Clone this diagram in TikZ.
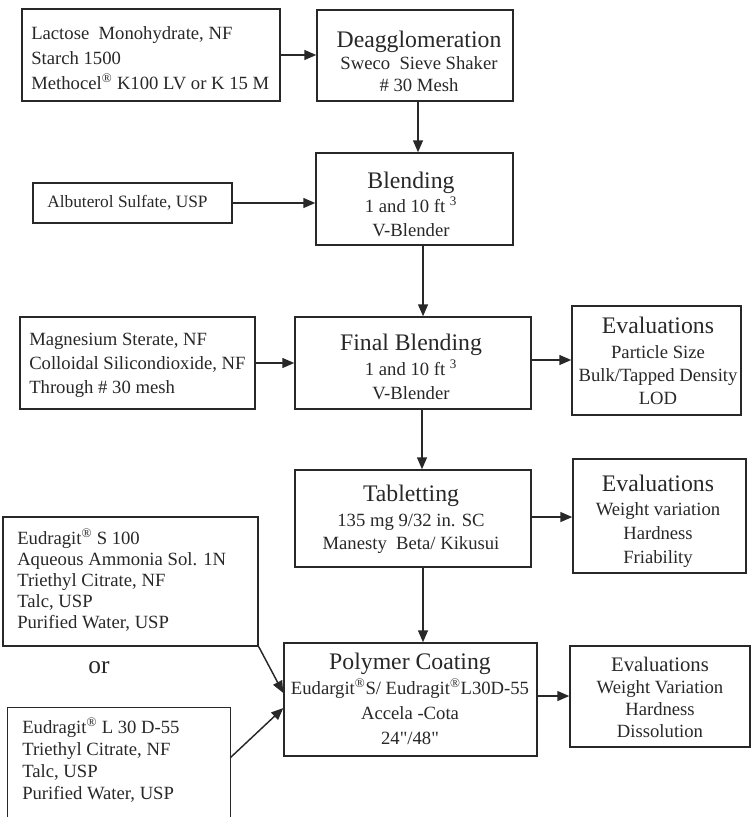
\documentclass[tikz,border=0pt]{standalone}
\usepackage{fontspec}
\setmainfont{Liberation Serif}[Ligatures=TeXOff]
\usetikzlibrary{arrows.meta}
\definecolor{ink}{RGB}{40,40,40}
\tikzset{
  box/.style={draw=ink, line width=1.1pt, rectangle, inner sep=0pt},
  openbox/.style={draw=none, rectangle, inner sep=0pt},
  arr/.style={draw=ink, line width=1.1pt, -{Triangle[length=9pt,width=7.5pt]}},
  txt/.style={text=ink, inner sep=0pt, align=center},
  ltxt/.style={text=ink, inner sep=0pt, align=left, anchor=west},
}
\newcommand{\ttl}[1]{{\fontsize{17.8}{18}\selectfont #1}}
\newcommand{\rg}{\textsuperscript{®}}
\newcommand{\dq}{\symbol{34}}
\begin{document}
\begin{tikzpicture}[x=0.75pt,y=-0.75pt]
\fill[white] (0,0) rectangle (751,817);
\useasboundingbox (0,0) rectangle (751,817);

% boxes
\node[box, minimum width=193.5pt, minimum height=69pt] (lact) at (151,55) {};
\node[box, minimum width=147pt, minimum height=68.25pt] (deag) at (415,55.5) {};
\node[box, minimum width=149.25pt, minimum height=30pt] (albu) at (132.5,203) {};
\node[box, minimum width=147.75pt, minimum height=69pt] (blend) at (414.5,199) {};
\node[box, minimum width=176.25pt, minimum height=69pt] (mg) at (137.5,363) {};
\node[box, minimum width=177pt, minimum height=69pt] (final) at (413,363) {};
\node[box, minimum width=126.75pt, minimum height=81.75pt] (ev1) at (656.5,360.5) {};
\node[box, minimum width=177pt, minimum height=72.75pt] (tab) at (413,518.5) {};
\node[box, minimum width=129.75pt, minimum height=85.5pt] (ev2) at (659.5,516) {};
\node[box, minimum width=191.25pt, minimum height=96.75pt] (sbox) at (130.5,581.5) {};
\node[box, minimum width=189.75pt, minimum height=84.75pt] (poly) at (410.5,699.5) {};
\node[box, minimum width=135pt, minimum height=75.75pt] (ev3) at (660,696.5) {};
\node[openbox, minimum width=166.5pt, minimum height=85.5pt] (lbox) at (119,765) {};
\draw[ink, line width=1.1pt] (lbox.south west) -- (lbox.north west) -- (lbox.north east) -- (lbox.south east);

% texts
\node[ltxt, font=\fontsize{14}{18.75}\selectfont] (lact-t) at (31,58)
  {Lactose\ \ Monohydrate, NF\\ Starch 1500\\ Methocel\rg{} K100 LV or K 15 M};
\node[txt, font=\fontsize{14}{16.5}\selectfont] (deag-t) at (419,61)
  {\ttl{Deagglomeration}\\ Sweco\ \ Sieve Shaker\\ \# 30 Mesh};
\node[ltxt, font=\fontsize{13}{16}\selectfont] (albu-t) at (47,203)
  {Albuterol Sulfate, USP};
\node[txt, font=\fontsize{14}{18}\selectfont] (blend-t) at (411,204)
  {\ttl{Blending}\\ 1 and 10 ft \textsuperscript{3}\\ V-Blender};
\node[ltxt, font=\fontsize{14}{18}\selectfont] (mg-t) at (29,365)
  {Magnesium Sterate, NF\\ Colloidal Silicondioxide, NF\\ Through \# 30 mesh};
\node[txt, font=\fontsize{14}{18}\selectfont] (final-t) at (411,367)
  {\ttl{Final Blending}\\[1pt] 1 and 10 ft \textsuperscript{3}\\ V-Blender};
\node[txt, font=\fontsize{14}{17.25}\selectfont] (ev1-t) at (658,361)
  {\ttl{Evaluations}\\[1.5pt] Particle Size\\ Bulk/Tapped Density\\ LOD};
\node[txt, font=\fontsize{14}{17.25}\selectfont] (tab-t) at (411,519)
  {\ttl{Tabletting}\\[1.5pt] 135 mg 9/32 in. SC\\ Manesty\ \ Beta/ Kikusui};
\node[txt, font=\fontsize{14}{18}\selectfont] (ev2-t) at (658,521)
  {\ttl{Evaluations}\\ Weight variation\\ Hardness\\ Friability};
\node[ltxt, font=\fontsize{14}{15.75}\selectfont] (sbox-t) at (17,580)
  {Eudragit\rg{} S 100\\ Aqueous Ammonia Sol. 1N\\ Triethyl Citrate, NF\\ Talc, USP\\ Purified Water, USP};
\node[txt, font=\fontsize{19}{20}\selectfont] (or) at (99,668) {or};
\node[ltxt, font=\fontsize{14}{16.5}\selectfont] (lbox-t) at (22,760)
  {Eudragit\rg{} L 30 D-55\\ Triethyl Citrate, NF\\ Talc, USP\\ Purified Water, USP};
\node[txt, font=\fontsize{14}{18.75}\selectfont] (poly-t) at (410,699)
  {\ttl{Polymer Coating}\\ Eudargit\rg{}S/ Eudragit\rg{}L30D-55\\ Accela -Cota\\ 24\dq/48\dq};
\node[txt, font=\fontsize{14}{16.5}\selectfont] (ev3-t) at (660,697)
  {{\fontsize{15.5}{16.5}\selectfont Evaluations}\\ Weight Variation\\ Hardness\\ Dissolution};

% connectors
\draw[arr] (lact.east) -- (lact.east -| deag.west);
\draw[arr] ([xshift=2.25pt]deag.south) -- ([xshift=2.25pt]deag.south |- blend.north);
\draw[arr] (albu.east) -- (albu.east -| blend.west);
\draw[arr] ([xshift=6.4pt]blend.south) -- ([xshift=6.4pt]blend.south |- final.north);
\draw[arr] (mg.east) -- (mg.east -| final.west);
\draw[arr] ([yshift=2.25pt]final.east) -- ([yshift=2.25pt]final.east -| ev1.west);
\draw[arr] ([xshift=6.75pt]final.south) -- ([xshift=6.75pt]final.south |- tab.north);
\draw[arr] ([yshift=1.1pt]tab.east) -- ([yshift=1.1pt]tab.east -| ev2.west);
\draw[arr] ([xshift=7.5pt]tab.south) -- ([xshift=7.5pt]tab.south |- poly.north);
\draw[arr] (sbox.south east) -- ([yshift=4.9pt]poly.west);
\draw[arr] ([yshift=-37.5pt]lbox.north east) -- ([yshift=-6.4pt]poly.west);
\draw[arr] ([yshift=2.6pt]poly.east) -- ([yshift=2.6pt]poly.east -| ev3.west);
\end{tikzpicture}
\end{document}
